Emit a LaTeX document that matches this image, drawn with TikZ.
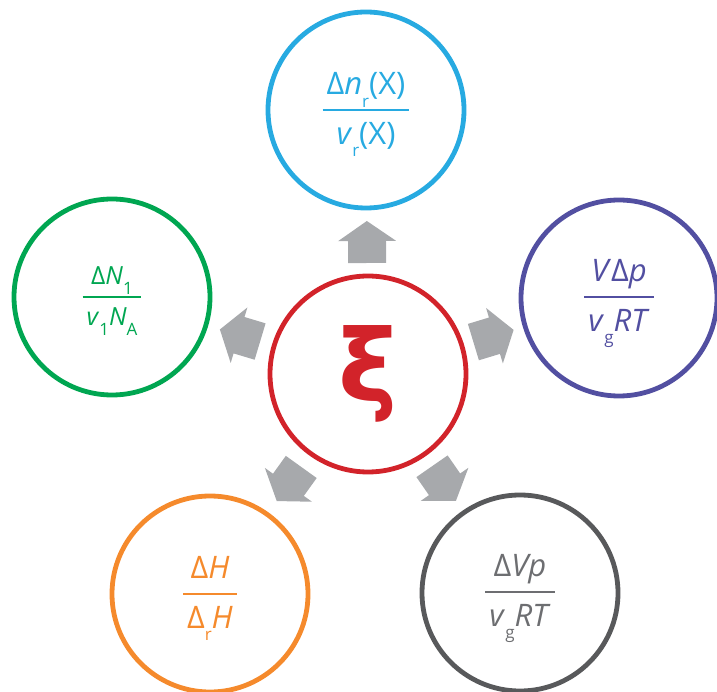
\documentclass[tikz,border=0pt]{standalone}
\usepackage{fontspec}
\setmainfont{Open Sans}
\newfontfamily\xifont{DejaVu Sans}
\usepackage{tikz}
\usetikzlibrary{
	calc
}

\definecolor{xi-red}{HTML}{D2232A}
\definecolor{nr-blue}{HTML}{27AAE1}
\definecolor{dN-green}{HTML}{00A651}
\definecolor{dp-purple}{HTML}{524FA1}
\definecolor{dh-orange}{HTML}{F58A2C}
\definecolor{dv-gray}{HTML}{58595B}
\definecolor{dv-text}{HTML}{6D6E71}
\definecolor{arrow-gray}{HTML}{A7A9AC}

\setlength{\arrayrulewidth}{0.9pt}
\newcommand{\lo}[1]{\raisebox{-0.75ex}{\fontsize{8.5}{9}\selectfont #1}}
\newcommand{\ratio}[2]{%
	\renewcommand{\arraystretch}{1.25}%
	\begin{tabular}{@{\hspace{2pt}}c@{\hspace{2pt}}}#1\\\hline#2\end{tabular}%
}

\begin{document}
\begin{tikzpicture} [
		x = 0.5pt,
		y = 0.5pt,
		ring/.style = {
			circle,
			draw,
			line width = 2.4pt,
			minimum size = 98pt,
			inner sep = 0pt,
			font = \fontsize{15.5}{19}\selectfont
		},
		small-ring/.style = {
			ring,
			font = \fontsize{12.5}{15.5}\selectfont
		},
		arrow/.style = {
			fill = arrow-gray
		}
	]
	\useasboundingbox (0,0) rectangle (717,691);

	\node[ring, xi-red, font = \xifont\fontsize{50}{54}\selectfont\bfseries] (xi) at (368,317) {ξ};

	\node[ring, nr-blue] (nr) at (366,581) {
		\ratio{Δ\textit{n}\lo{r}(X)}{\textit{v}\lo{r}(X)}
	};
	\node[small-ring, dN-green] (dN) at (112,394) {
		\ratio{Δ\textit{N}\lo{1}}{\textit{v}\lo{1}\textit{N}\lo{A}}
	};
	\node[ring, dp-purple] (dp) at (619,393) {
		\ratio{\textit{V}Δ\textit{p}}{\textit{v}\lo{g}\textit{RT}}
	};
	\node[ring, dh-orange] (dh) at (210,97) {
		\ratio{Δ\textit{H}}{Δ\lo{r}\textit{H}}
	};
	\node[ring, dv-gray, text = dv-text] (dv) at (520,98) {
		\ratio{Δ\textit{Vp}}{\textit{v}\lo{g}\textit{RT}}
	};

	\foreach \target in {nr, dN, dp, dh, dv} {
		\path let \p1 = ($(\target)-(xi)$), \n1 = {atan2(\y1,\x1)} in \pgfextra{\xdef\heading{\n1}};
		\fill[arrow, shift = {($(xi)!0.5!(\target)$)}, rotate = \heading]
			(-21,-19) -- (1,-19) -- (1,-29) -- (21,0) -- (1,29) -- (1,19) -- (-21,19) -- cycle;
	}
\end{tikzpicture}
\end{document}
